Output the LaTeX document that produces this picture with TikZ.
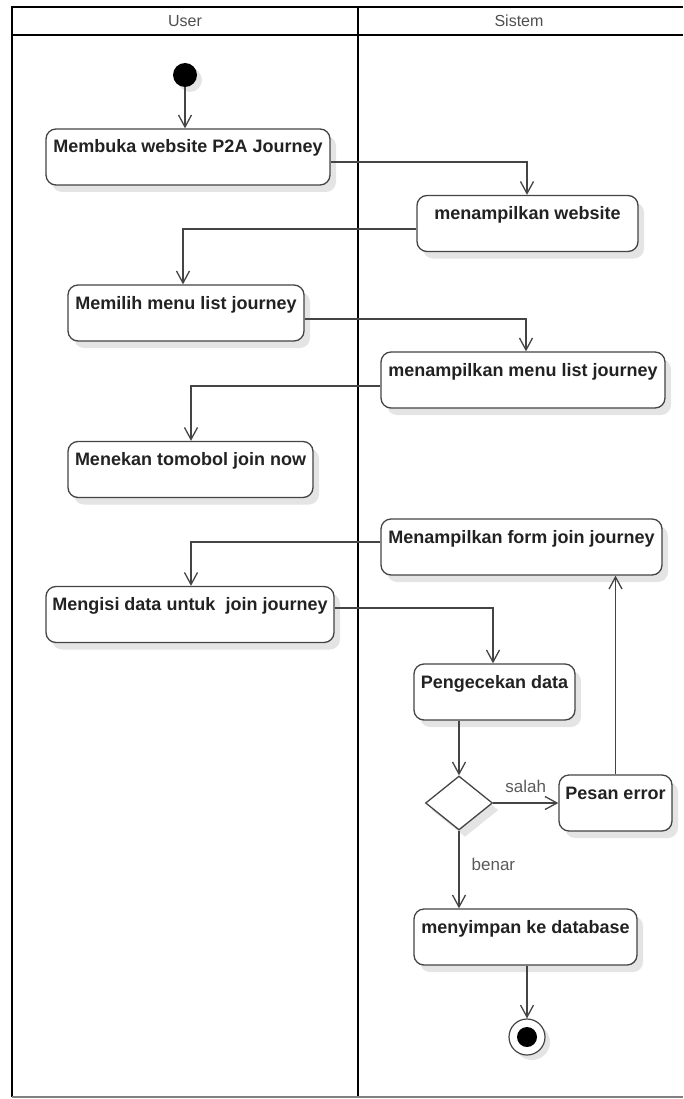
\documentclass[tikz,border=0pt]{standalone}
\usepackage{fontspec}
\setmainfont{Liberation Sans}
\usetikzlibrary{arrows.meta,shapes.geometric,shadows,calc}
\definecolor{ln}{HTML}{444444}
\definecolor{txt}{HTML}{222222}
\definecolor{shd}{HTML}{E4E4E4}
\definecolor{lbl}{HTML}{5A5A5A}
\begin{document}
\begin{tikzpicture}[x=1pt,y=-1pt,
  act/.style={draw=ln, line width=1.3pt, rounded corners=10pt, fill=white,
    inner sep=0pt, text height=24pt, text depth=32pt, minimum width=#1,
    font=\fontsize{18}{20}\selectfont\bfseries, text=txt,
    drop shadow={shadow xshift=6pt,shadow yshift=-7pt,fill=shd,opacity=1}},
  flow/.style={draw=ln, line width=1.3pt,
    -{Straight Barb[length=12pt,width=13pt,line width=1.3pt]}},
  hdr/.style={font=\fontsize{16}{18}\selectfont, text=txt!80, inner sep=0pt},
  lbltext/.style={font=\fontsize{17}{19}\selectfont, text=lbl, inner sep=0pt},
  frame/.style={draw=black, line width=2pt}
]
\useasboundingbox (0,0) rectangle (683,1099);
% swimlane frame
\draw[frame] (683,7) -- (12,7) -- (12,1097);
\draw[frame] (12,35) -- (683,35);
\draw[frame] (358,7) -- (358,1097);
\draw[draw=gray, line width=1.5pt] (12,1097) -- (683,1097);
\node[hdr] (hu) at (185,21) {User};
\node[hdr] (hs) at (519,21) {Sistem};

% nodes
\node[circle, fill=black, minimum size=24pt, inner sep=0pt,
  drop shadow={shadow xshift=5pt,shadow yshift=-5pt,fill=shd,opacity=1}] (init) at (185,75) {};
\node[act=284pt] (b1) at (188,157) {Membuka website P2A Journey};
\node[act=221pt] (b2) at (527.5,223.5) {menampilkan website};
\node[act=236pt] (b3) at (186,313) {Memilih menu list journey};
\node[act=284pt] (b4) at (523,380) {menampilkan menu list journey};
\node[act=245pt] (b5) at (190.5,469.5) {Menekan tomobol join now};
\node[act=281pt] (b6) at (521.5,547) {Menampilkan form join journey};
\node[act=288pt] (b7) at (190,614.5) {Mengisi data untuk\ \ join journey};
\node[act=161pt] (b8) at (494.5,692) {Pengecekan data};
\node[diamond, aspect=1.24, draw=ln, line width=1.3pt, fill=white, inner sep=0pt,
  minimum width=67pt, minimum height=54pt,
  drop shadow={shadow xshift=6pt,shadow yshift=-7pt,fill=shd,opacity=1}] (dec) at (459,803) {};
\node[act=113pt] (b9) at (615.5,803) {Pesan error};
\node[act=223pt] (b10) at (525.5,937) {menyimpan ke database};
\node[circle, draw=ln, line width=1.2pt, fill=white, minimum size=36pt, inner sep=0pt,
  drop shadow={shadow xshift=5pt,shadow yshift=-5pt,fill=shd,opacity=1}] (fin) at (527,1037) {};
\node[circle, fill=black, minimum size=20pt, inner sep=0pt] (findot) at (fin) {};

% connectors
\draw[flow] (init.south) -- (init.south |- b1.north);
\draw[flow] ([yshift=-5pt]b1.east) -| ([xshift=-0.5pt]b2.north);
\draw[flow] ([yshift=-5.5pt]b2.west) -| ([xshift=-3pt]b3.north);
\draw[flow] ([yshift=-6pt]b3.east) -| ([xshift=3pt]b4.north);
\draw[flow] ([yshift=-6pt]b4.west) -| ([xshift=0.5pt]b5.north);
\draw[flow] ([yshift=5pt]b6.west) -| ([xshift=1pt]b7.north);
\draw[flow] ([yshift=6.5pt]b7.east) -| ([xshift=-1.5pt]b8.north);
\draw[flow] (dec.north |- b8.south) -- (dec.north);
\draw[flow] (dec.east) -- node[lbltext, anchor=base, yshift=11pt] (lsalah) {salah} (b9.west);
\draw[flow] (dec.south) -- node[lbltext, anchor=base west, xshift=12pt, yshift=-1pt] (lbenar) {benar} (dec.south |- b10.north);
\draw[flow] (b9.north) -- (b9.north |- b6.south);
\draw[flow] (fin.north |- b10.south) -- (fin.north);
\end{tikzpicture}
\end{document}
